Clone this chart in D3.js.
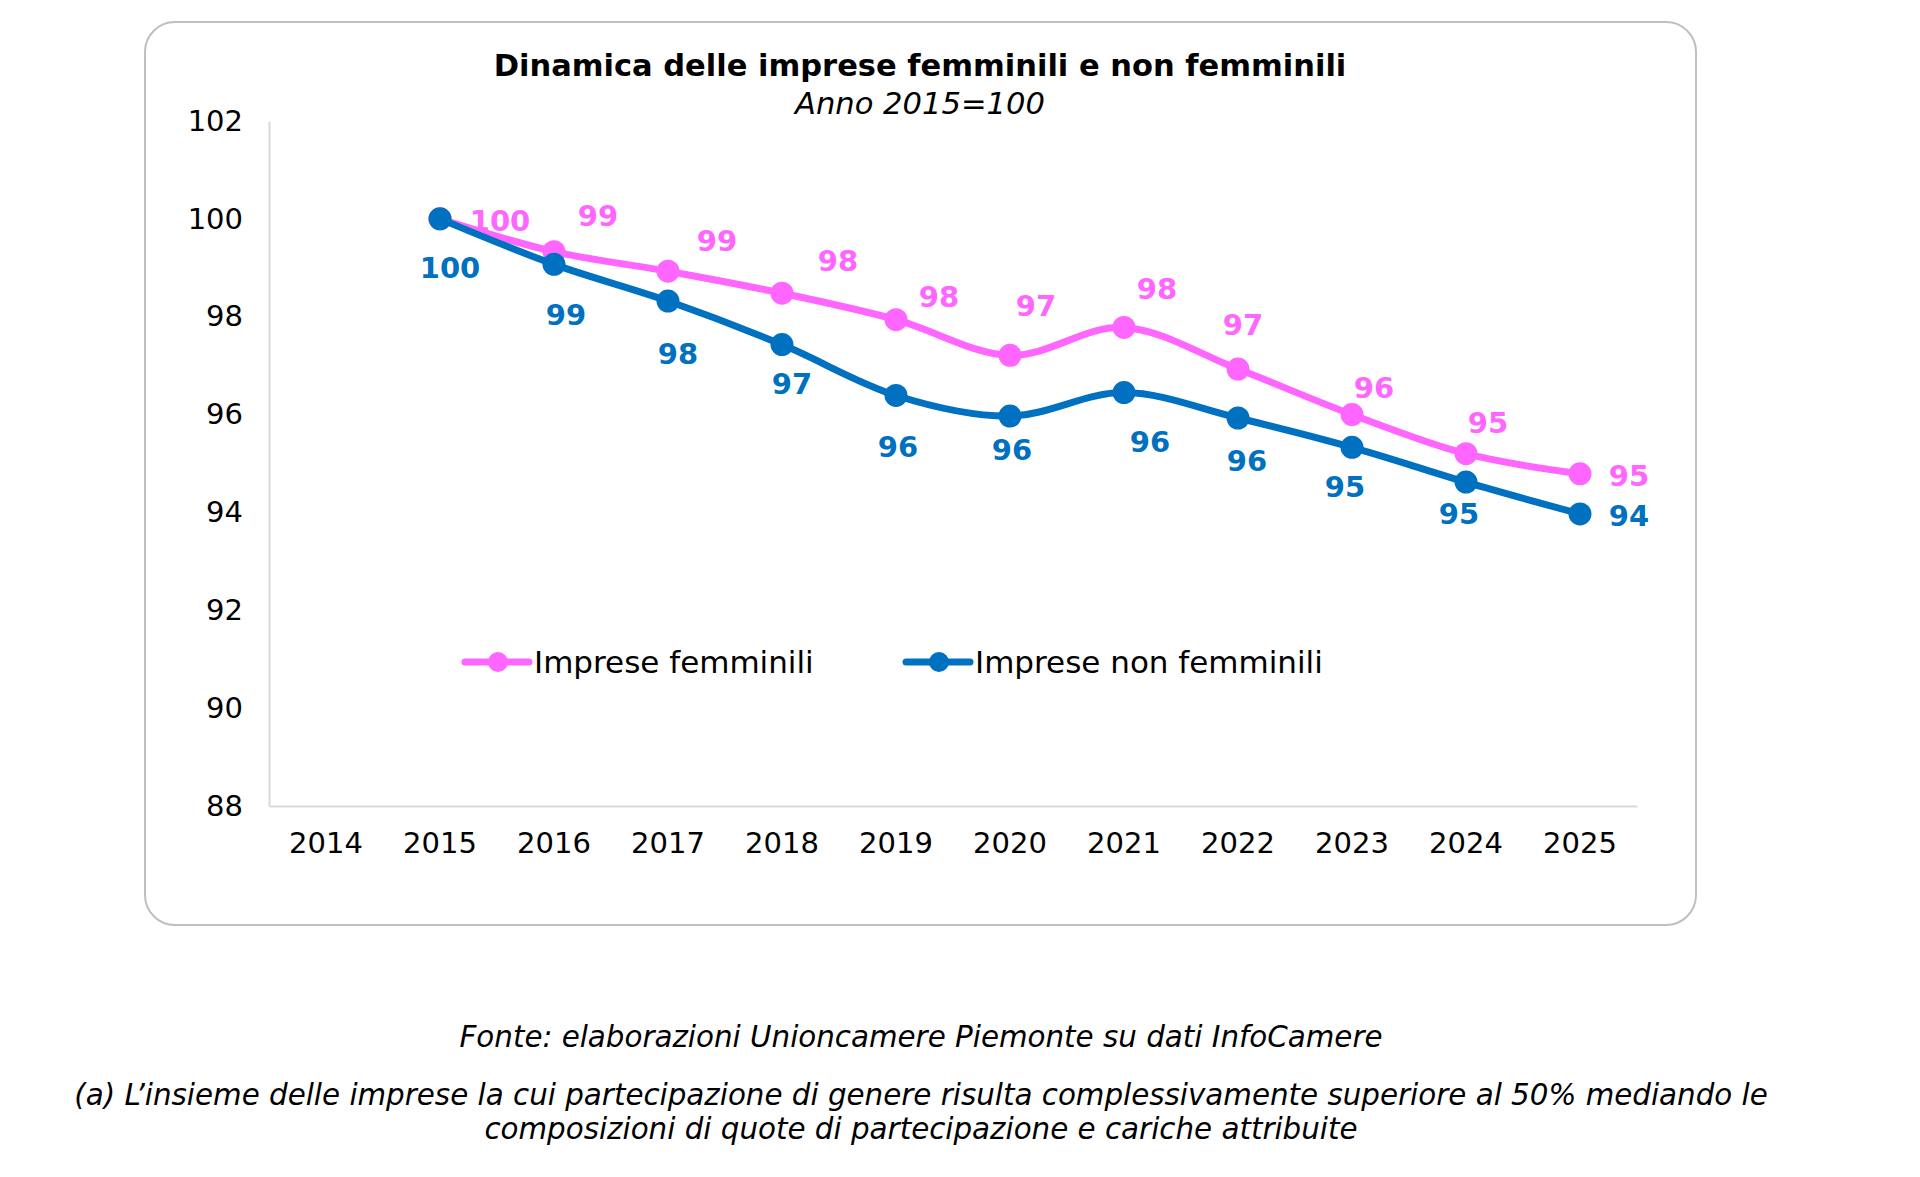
<!DOCTYPE html>
<html>
<head>
<meta charset="utf-8">
<script src="https://cdn.jsdelivr.net/npm/d3@7"></script>
<style>
  body { margin: 0; background: #fff; }
  text { font-family: "DejaVu Sans", Verdana, sans-serif; }
</style>
</head>
<body>
<svg id="chart" width="1920" height="1177"></svg>
<script>
// data (index, 2015 = 100)
var years = ["2014", "2015", "2016", "2017", "2018", "2019", "2020", "2021", "2022", "2023", "2024", "2025"];
var seriesYears = ["2015", "2016", "2017", "2018", "2019", "2020", "2021", "2022", "2023", "2024", "2025"];
var femminili = [100, 99.33, 98.93, 98.48, 97.94, 97.21, 97.78, 96.93, 96.0, 95.2, 94.79];
var nonFemminili = [100, 99.07, 98.32, 97.43, 96.39, 95.97, 96.45, 95.93, 95.33, 94.62, 93.97];
var yTicks = [88, 90, 92, 94, 96, 98, 100, 102];
var seriesNames = ["Imprese femminili", "Imprese non femminili"];

// hand-placed label nudges (px from the point), like the excel original
var pinkNudge = [[60, 2], [44, -36], [49, -31], [56, -33], [43, -23], [26, -50], [33, -39], [5, -45], [22, -27], [22, -31], [49, 2]];
var blueNudge = [[10, 49], [12, 50], [10, 53], [10, 39], [2, 51], [2, 34], [26, 49], [9, 43], [-7, 39], [-7, 31], [49, 2]];

var PINK = "#ff66ff", BLUE = "#0070c0";

var svg = d3.select("#chart");

// rounded frame
svg.append("rect")
  .attr("x", 145).attr("y", 22)
  .attr("width", 1551).attr("height", 903)
  .attr("rx", 30).attr("ry", 30)
  .attr("fill", "#fff")
  .attr("stroke", "#bfbfbf")
  .attr("stroke-width", 2);

// title
svg.append("text")
  .attr("x", 920).attr("y", 76)
  .attr("text-anchor", "middle")
  .attr("font-size", 30.5).attr("font-weight", "bold")
  .text("Dinamica delle imprese femminili e non femminili");
svg.append("text")
  .attr("x", 920).attr("y", 114)
  .attr("text-anchor", "middle")
  .attr("font-size", 30.6).attr("font-style", "italic")
  .text("Anno 2015=100");

var x = d3.scaleBand().domain(years).range([269, 1637]).padding(0);
var y = d3.scaleLinear().domain([88, 102]).range([806, 121]);
var cx = function (yr) { return x(yr) + x.bandwidth() / 2; };

// axes
var yAxis = svg.append("g")
  .attr("transform", "translate(269,0)")
  .call(d3.axisLeft(y).tickValues(yTicks).tickSize(0).tickPadding(26).tickFormat(d3.format("d")));
var xAxis = svg.append("g")
  .attr("transform", "translate(0,806)")
  .call(d3.axisBottom(x).tickSize(0).tickPadding(26));
[xAxis, yAxis].forEach(function (g) {
  g.select(".domain").attr("stroke", "#d9d9d9").attr("stroke-width", 2);
  g.selectAll("text").attr("font-size", 29).attr("fill", "#000")
    .attr("font-family", "DejaVu Sans, Verdana, sans-serif");
});
xAxis.selectAll("text").attr("dy", "0.71em");

var line = d3.line()
  .x(function (d) { return cx(d.year); })
  .y(function (d) { return y(d.value); })
  .curve(d3.curveCatmullRom.alpha(0));

function drawSeries(values, color, nudge) {
  var data = values.map(function (v, i) { return { year: seriesYears[i], value: v }; });
  var g = svg.append("g");
  g.append("path")
    .datum(data)
    .attr("fill", "none")
    .attr("stroke", color)
    .attr("stroke-width", 7)
    .attr("stroke-linecap", "round")
    .attr("d", line);
  g.selectAll("circle")
    .data(data)
    .enter().append("circle")
    .attr("cx", function (d) { return cx(d.year); })
    .attr("cy", function (d) { return y(d.value); })
    .attr("r", 11.5)
    .attr("fill", color);
  return { g: g, data: data, nudge: nudge, color: color };
}

var pink = drawSeries(femminili, PINK, pinkNudge);
var blue = drawSeries(nonFemminili, BLUE, blueNudge);

[pink, blue].forEach(function (s) {
  s.g.selectAll("text.lbl")
    .data(s.data)
    .enter().append("text")
    .attr("class", "lbl")
    .attr("x", function (d, i) { return cx(d.year) + s.nudge[i][0]; })
    .attr("y", function (d, i) { return y(d.value) + s.nudge[i][1]; })
    .attr("dy", "0.36em")
    .attr("text-anchor", "middle")
    .attr("font-size", 29).attr("font-weight", "bold")
    .attr("fill", s.color)
    .text(function (d) { return d3.format(".0f")(d.value); });
});

// legend
var legendX = [465, 906];
var legend = svg.append("g").attr("transform", "translate(0,662)");
seriesNames.forEach(function (name, i) {
  var c = i === 0 ? PINK : BLUE;
  var lx = legendX[i];
  legend.append("line")
    .attr("x1", lx).attr("x2", lx + 64)
    .attr("stroke", c).attr("stroke-width", 7).attr("stroke-linecap", "round");
  legend.append("circle").attr("cx", lx + 33).attr("r", 10).attr("fill", c);
  legend.append("text")
    .attr("x", lx + 69).attr("dy", "0.36em")
    .attr("font-size", 31)
    .text(name);
});

// source and note below the frame
var notes = [
  "Fonte: elaborazioni Unioncamere Piemonte su dati InfoCamere",
  "(a) L\u2019insieme delle imprese la cui partecipazione di genere risulta complessivamente superiore al 50% mediando le",
  "composizioni di quote di partecipazione e cariche attribuite"
];
var noteY = [1047, 1105, 1139];
notes.forEach(function (t, i) {
  svg.append("text")
    .attr("x", 921).attr("y", noteY[i])
    .attr("text-anchor", "middle")
    .attr("font-size", 29.35).attr("font-style", "italic")
    .text(t);
});
</script>
</body>
</html>
